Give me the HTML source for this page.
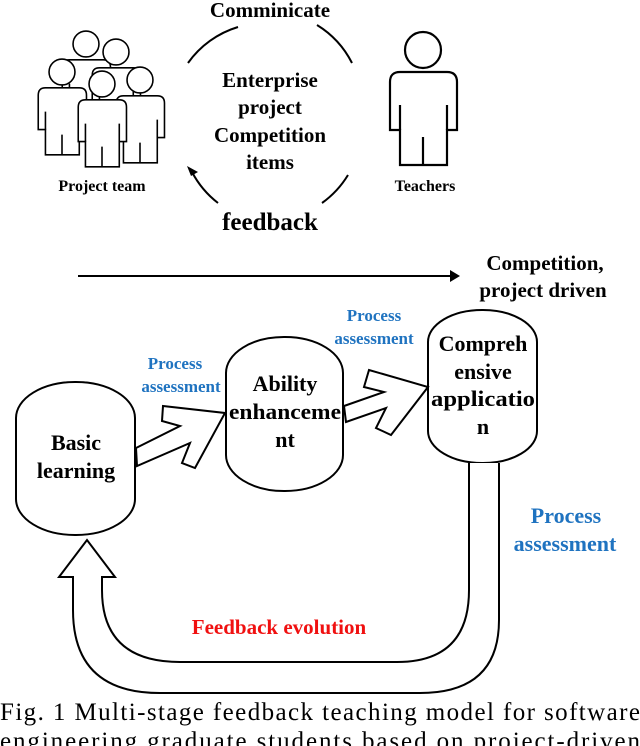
<!DOCTYPE html>
<html><head><meta charset="utf-8"><style>
html,body{margin:0;padding:0;background:#fff;}
svg{display:block;}
text{font-family:"Liberation Serif",serif;font-weight:bold;}
</style></head><body>
<svg width="640" height="746" viewBox="0 0 640 746" xmlns="http://www.w3.org/2000/svg">
<defs>
<g id="person">
<circle cx="0" cy="0" r="18" fill="#fff" stroke="#000" stroke-width="2.2"/>
<path d="M-23,115 L-23,80 L-33,80 L-33,32 Q-33,22 -23,22 L24,22 Q34,22 34,32 L34,80 L24,80 L24,115 Z" fill="#fff" stroke="#000" stroke-width="2.2"/>
<path d="M-23,55 L-23,80 M24,55 L24,80 M0,87 L0,115" stroke="#000" stroke-width="2.2" fill="none"/>
</g>
</defs>
<use href="#person" transform="translate(86,44) scale(0.72)"/>
<use href="#person" transform="translate(116,52) scale(0.72)"/>
<use href="#person" transform="translate(62,72) scale(0.72)"/>
<use href="#person" transform="translate(140,80) scale(0.72)"/>
<use href="#person" transform="translate(102,84) scale(0.72)"/>
<use href="#person" transform="translate(423,50) scale(1)"/>
<text x="102" y="191" font-size="16" text-anchor="middle">Project team</text>
<text x="425" y="191" font-size="16" text-anchor="middle">Teachers</text>
<g fill="none" stroke="#000" stroke-width="2">
<path d="M188,63 A95,95 0 0 1 238,27"/>
<path d="M317,25 A95,95 0 0 1 352,63"/>
<path d="M348,175 A95,95 0 0 1 322,203"/>
<path d="M218,203 A95,95 0 0 1 192,172"/>
</g>
<polygon points="187,166 198,172 191,176" fill="#000"/>
<text x="270" y="17" font-size="21" text-anchor="middle">Comminicate</text>
<text x="270" y="87" font-size="21" text-anchor="middle">Enterprise</text>
<text x="270" y="114" font-size="21" text-anchor="middle">project</text>
<text x="270" y="142" font-size="21" text-anchor="middle">Competition</text>
<text x="270" y="169" font-size="21" text-anchor="middle">items</text>
<text x="270" y="230" font-size="25" text-anchor="middle">feedback</text>
<line x1="78" y1="276" x2="452" y2="276" stroke="#000" stroke-width="2"/>
<polygon points="450,270 460,276 450,282" fill="#000"/>
<text x="545" y="270" font-size="21" text-anchor="middle">Competition,</text>
<text x="543" y="297" font-size="21" text-anchor="middle">project driven</text>
<g fill="#fff" stroke="#000" stroke-width="2">
<rect x="16" y="382" width="119" height="153" rx="59" ry="36"/>
<rect x="226" y="337" width="117" height="154" rx="58" ry="36"/>
<rect x="428" y="310" width="109" height="153" rx="54" ry="32"/>
<polygon points="136,448 180,426 162,421 163,406 225,413 195,468 182,463 190,443 137,466"/>
<polygon points="344,406 384,392 364,387 369,370 428,387 391,435 376,428 386,408 346,422"/>
<path d="M469,463 L469,590 Q469,662 397,662 L180,662 Q102,662 102,590 L102,577 L115,577 L87,540 L59,577 L73,577 L73,610 Q73,693 160,693 L420,693 Q499,693 499,620 L499,463"/>
</g>
<text x="76" y="450" font-size="22" text-anchor="middle">Basic</text>
<text x="76" y="478" font-size="22" text-anchor="middle">learning</text>
<text x="285" y="391" font-size="22" text-anchor="middle">Ability</text>
<text x="285" y="419" font-size="22" text-anchor="middle" textLength="112" lengthAdjust="spacingAndGlyphs">enhanceme</text>
<text x="285" y="447" font-size="22" text-anchor="middle">nt</text>
<text x="483" y="351" font-size="22" text-anchor="middle">Compreh</text>
<text x="483" y="379" font-size="22" text-anchor="middle">ensive</text>
<text x="483" y="406" font-size="22" text-anchor="middle" textLength="104" lengthAdjust="spacingAndGlyphs">applicatio</text>
<text x="483" y="434" font-size="22" text-anchor="middle">n</text>
<g fill="#1f73c0" text-anchor="middle">
<text x="175" y="369" font-size="17">Process</text>
<text x="181" y="392" font-size="17">assessment</text>
<text x="374" y="321" font-size="17">Process</text>
<text x="374" y="344" font-size="17">assessment</text>
<text x="566" y="523" font-size="22">Process</text>
<text x="565" y="551" font-size="22">assessment</text>
</g>
<text x="279" y="634" font-size="21" fill="#f01010" text-anchor="middle">Feedback evolution</text>
<text x="0" y="720" font-size="25" style="font-weight:normal" textLength="640" lengthAdjust="spacing">Fig. 1 Multi-stage feedback teaching model for software</text>
<text x="0" y="749" font-size="25" style="font-weight:normal" textLength="640" lengthAdjust="spacing">engineering graduate students based on project-driven</text>
</svg>
</body></html>
